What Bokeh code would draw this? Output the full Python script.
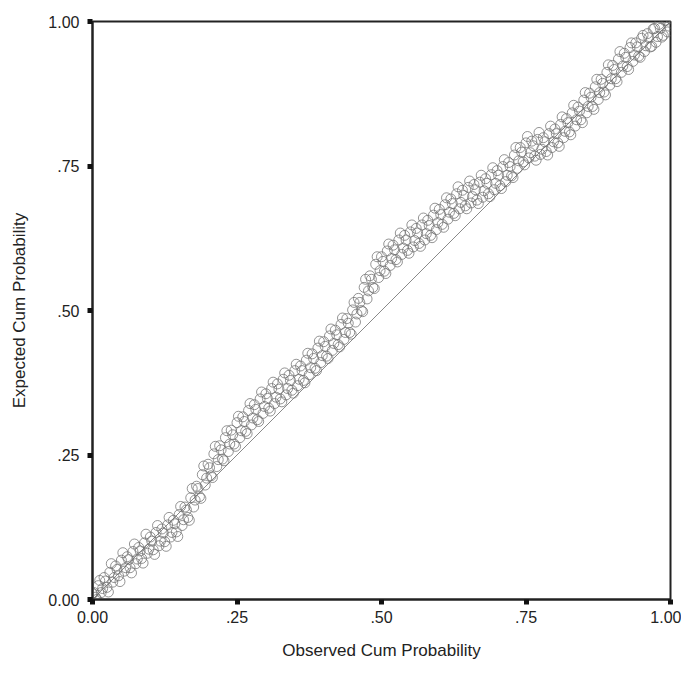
from bokeh.plotting import figure
from bokeh.models import Range1d, FixedTicker, ColumnDataSource
from bokeh.embed import file_html
from bokeh.resources import INLINE

# Observed cumulative probability (x) and expected cumulative probability (y)
observed = [
    0.000, 0.005, 0.010, 0.015, 0.020, 0.025, 0.030, 0.035, 0.040, 0.045,
    0.050, 0.055, 0.060, 0.065, 0.070, 0.075, 0.080, 0.085, 0.090, 0.095,
    0.100, 0.105, 0.110, 0.115, 0.120, 0.125, 0.130, 0.135, 0.140, 0.145,
    0.150, 0.155, 0.160, 0.165, 0.170, 0.175, 0.180, 0.185, 0.190, 0.195,
    0.200, 0.205, 0.210, 0.215, 0.220, 0.225, 0.230, 0.235, 0.240, 0.245,
    0.250, 0.255, 0.260, 0.265, 0.270, 0.275, 0.280, 0.285, 0.290, 0.295,
    0.300, 0.305, 0.310, 0.315, 0.320, 0.325, 0.330, 0.335, 0.340, 0.345,
    0.350, 0.355, 0.360, 0.365, 0.370, 0.375, 0.380, 0.385, 0.390, 0.395,
    0.400, 0.405, 0.410, 0.415, 0.420, 0.425, 0.430, 0.435, 0.440, 0.445,
    0.450, 0.455, 0.460, 0.465, 0.470, 0.475, 0.480, 0.485, 0.490, 0.495,
    0.500, 0.505, 0.510, 0.515, 0.520, 0.525, 0.530, 0.535, 0.540, 0.545,
    0.550, 0.555, 0.560, 0.565, 0.570, 0.575, 0.580, 0.585, 0.590, 0.595,
    0.600, 0.605, 0.610, 0.615, 0.620, 0.625, 0.630, 0.635, 0.640, 0.645,
    0.650, 0.655, 0.660, 0.665, 0.670, 0.675, 0.680, 0.685, 0.690, 0.695,
    0.700, 0.705, 0.710, 0.715, 0.720, 0.725, 0.730, 0.735, 0.740, 0.745,
    0.750, 0.755, 0.760, 0.765, 0.770, 0.775, 0.780, 0.785, 0.790, 0.795,
    0.800, 0.805, 0.810, 0.815, 0.820, 0.825, 0.830, 0.835, 0.840, 0.845,
    0.850, 0.855, 0.860, 0.865, 0.870, 0.875, 0.880, 0.885, 0.890, 0.895,
    0.900, 0.905, 0.910, 0.915, 0.920, 0.925, 0.930, 0.935, 0.940, 0.945,
    0.950, 0.955, 0.960, 0.965, 0.970, 0.975, 0.980, 0.985, 0.990, 0.995,
    1.000,
]
expected = [
    0.010, 0.004, 0.024, 0.012, 0.038, 0.021, 0.047, 0.030, 0.058, 0.041,
    0.068, 0.049, 0.074, 0.055, 0.083, 0.062, 0.090, 0.071, 0.098, 0.080,
    0.108, 0.086, 0.116, 0.093, 0.122, 0.100, 0.129, 0.108, 0.137, 0.117,
    0.147, 0.128, 0.160, 0.142, 0.176, 0.160, 0.196, 0.178, 0.216, 0.198,
    0.234, 0.214, 0.252, 0.230, 0.266, 0.243, 0.280, 0.256, 0.293, 0.269,
    0.306, 0.280, 0.316, 0.291, 0.327, 0.302, 0.337, 0.311, 0.347, 0.322,
    0.356, 0.331, 0.365, 0.339, 0.373, 0.347, 0.381, 0.354, 0.388, 0.362,
    0.396, 0.370, 0.404, 0.379, 0.414, 0.389, 0.425, 0.400, 0.435, 0.410,
    0.446, 0.421, 0.456, 0.431, 0.466, 0.441, 0.476, 0.450, 0.486, 0.462,
    0.501, 0.480, 0.521, 0.500, 0.540, 0.520, 0.560, 0.540, 0.580, 0.557,
    0.593, 0.568, 0.603, 0.578, 0.613, 0.588, 0.622, 0.597, 0.630, 0.604,
    0.636, 0.610, 0.642, 0.616, 0.648, 0.622, 0.656, 0.630, 0.665, 0.640,
    0.675, 0.649, 0.683, 0.658, 0.693, 0.668, 0.702, 0.676, 0.708, 0.681,
    0.713, 0.686, 0.718, 0.691, 0.722, 0.696, 0.728, 0.702, 0.735, 0.709,
    0.742, 0.716, 0.749, 0.723, 0.756, 0.733, 0.769, 0.746, 0.782, 0.757,
    0.790, 0.764, 0.793, 0.767, 0.796, 0.770, 0.799, 0.775, 0.806, 0.782,
    0.814, 0.790, 0.822, 0.799, 0.832, 0.809, 0.842, 0.819, 0.852, 0.830,
    0.864, 0.842, 0.876, 0.853, 0.887, 0.865, 0.900, 0.878, 0.912, 0.890,
    0.924, 0.901, 0.935, 0.912, 0.945, 0.922, 0.955, 0.931, 0.963, 0.940,
    0.971, 0.948, 0.979, 0.956, 0.987, 0.964, 0.995, 0.973, 1.002, 0.982,
    1.005,
]
observed_b = [
    0.0025, 0.0075, 0.0125, 0.0175, 0.0225, 0.0275, 0.0325, 0.0375, 0.0425, 0.0475,
    0.0525, 0.0575, 0.0625, 0.0675, 0.0725, 0.0775, 0.0825, 0.0875, 0.0925, 0.0975,
    0.1025, 0.1075, 0.1125, 0.1175, 0.1225, 0.1275, 0.1325, 0.1375, 0.1425, 0.1475,
    0.1525, 0.1575, 0.1625, 0.1675, 0.1725, 0.1775, 0.1825, 0.1875, 0.1925, 0.1975,
    0.2025, 0.2075, 0.2125, 0.2175, 0.2225, 0.2275, 0.2325, 0.2375, 0.2425, 0.2475,
    0.2525, 0.2575, 0.2625, 0.2675, 0.2725, 0.2775, 0.2825, 0.2875, 0.2925, 0.2975,
    0.3025, 0.3075, 0.3125, 0.3175, 0.3225, 0.3275, 0.3325, 0.3375, 0.3425, 0.3475,
    0.3525, 0.3575, 0.3625, 0.3675, 0.3725, 0.3775, 0.3825, 0.3875, 0.3925, 0.3975,
    0.4025, 0.4075, 0.4125, 0.4175, 0.4225, 0.4275, 0.4325, 0.4375, 0.4425, 0.4475,
    0.4525, 0.4575, 0.4625, 0.4675, 0.4725, 0.4775, 0.4825, 0.4875, 0.4925, 0.4975,
    0.5025, 0.5075, 0.5125, 0.5175, 0.5225, 0.5275, 0.5325, 0.5375, 0.5425, 0.5475,
    0.5525, 0.5575, 0.5625, 0.5675, 0.5725, 0.5775, 0.5825, 0.5875, 0.5925, 0.5975,
    0.6025, 0.6075, 0.6125, 0.6175, 0.6225, 0.6275, 0.6325, 0.6375, 0.6425, 0.6475,
    0.6525, 0.6575, 0.6625, 0.6675, 0.6725, 0.6775, 0.6825, 0.6875, 0.6925, 0.6975,
    0.7025, 0.7075, 0.7125, 0.7175, 0.7225, 0.7275, 0.7325, 0.7375, 0.7425, 0.7475,
    0.7525, 0.7575, 0.7625, 0.7675, 0.7725, 0.7775, 0.7825, 0.7875, 0.7925, 0.7975,
    0.8025, 0.8075, 0.8125, 0.8175, 0.8225, 0.8275, 0.8325, 0.8375, 0.8425, 0.8475,
    0.8525, 0.8575, 0.8625, 0.8675, 0.8725, 0.8775, 0.8825, 0.8875, 0.8925, 0.8975,
    0.9025, 0.9075, 0.9125, 0.9175, 0.9225, 0.9275, 0.9325, 0.9375, 0.9425, 0.9475,
    0.9525, 0.9575, 0.9625, 0.9675, 0.9725, 0.9775, 0.9825, 0.9875, 0.9925, 0.9975,
]
expected_b = [
    0.012, 0.000, 0.033, 0.019, 0.032, 0.013, 0.062, 0.038, 0.052, 0.031,
    0.081, 0.055, 0.069, 0.046, 0.096, 0.070, 0.084, 0.063, 0.113, 0.087,
    0.101, 0.078, 0.128, 0.101, 0.115, 0.092, 0.142, 0.116, 0.131, 0.109,
    0.161, 0.138, 0.155, 0.137, 0.192, 0.172, 0.192, 0.175, 0.231, 0.210,
    0.228, 0.211, 0.265, 0.242, 0.259, 0.240, 0.292, 0.269, 0.285, 0.265,
    0.317, 0.292, 0.308, 0.287, 0.339, 0.314, 0.329, 0.308, 0.359, 0.334,
    0.348, 0.326, 0.376, 0.350, 0.364, 0.342, 0.392, 0.365, 0.379, 0.357,
    0.407, 0.381, 0.396, 0.375, 0.426, 0.401, 0.417, 0.396, 0.447, 0.422,
    0.438, 0.417, 0.468, 0.443, 0.458, 0.437, 0.487, 0.462, 0.478, 0.459,
    0.514, 0.494, 0.514, 0.498, 0.554, 0.534, 0.554, 0.538, 0.593, 0.569,
    0.585, 0.564, 0.615, 0.590, 0.605, 0.584, 0.634, 0.608, 0.622, 0.599,
    0.648, 0.621, 0.634, 0.611, 0.660, 0.633, 0.647, 0.626, 0.677, 0.652,
    0.666, 0.644, 0.695, 0.670, 0.685, 0.664, 0.714, 0.687, 0.699, 0.676,
    0.724, 0.697, 0.709, 0.685, 0.734, 0.707, 0.720, 0.697, 0.747, 0.720,
    0.734, 0.711, 0.761, 0.734, 0.749, 0.730, 0.782, 0.759, 0.774, 0.752,
    0.801, 0.773, 0.785, 0.760, 0.808, 0.779, 0.792, 0.769, 0.819, 0.792,
    0.806, 0.784, 0.835, 0.810, 0.825, 0.804, 0.855, 0.830, 0.845, 0.825,
    0.877, 0.853, 0.869, 0.848, 0.900, 0.877, 0.893, 0.873, 0.925, 0.901,
    0.917, 0.896, 0.948, 0.923, 0.938, 0.917, 0.963, 0.942, 0.956, 0.938,
    0.976, 0.958, 0.972, 0.957, 0.988, 0.974, 0.988, 0.976, 1.002, 0.992,
]
ref_line = [0.0, 1.0]
tick_values = [0.0, 0.25, 0.5, 0.75, 1.0]
tick_labels = ["0.00", ".25", ".50", ".75", "1.00"]

FONT = "Liberation Sans"

p = figure(width=681, height=670, output_backend="svg", toolbar_location=None,
           x_range=Range1d(0, 1), y_range=Range1d(0, 1),
           min_border_left=92, min_border_right=11, min_border_top=21, min_border_bottom=71)

p.background_fill_color = "white"
p.border_fill_color = "white"
p.outline_line_color = "#222222"
p.outline_line_width = 2
p.grid.visible = False

p.line(ref_line, ref_line, line_color="#8a8a8a", line_width=1)

src = ColumnDataSource(dict(x=observed + observed_b, y=expected + expected_b))
p.scatter("x", "y", source=src, marker="circle", size=10,
          line_color="#707070", line_width=1, line_alpha=0.75, fill_color=None)

labels = {v: t for v, t in zip(tick_values, tick_labels)}
for ax in (p.xaxis[0], p.yaxis[0]):
    ax.ticker = FixedTicker(ticks=tick_values)
    ax.major_label_overrides = labels
    ax.minor_tick_line_color = None
    ax.major_tick_in = 0
    ax.major_tick_out = 5
    ax.major_tick_line_width = 5
    ax.major_tick_line_color = "#111111"
    ax.axis_line_color = "#222222"
    ax.axis_line_width = 2
    ax.major_label_text_font = FONT
    ax.major_label_text_font_size = "16px"
    ax.major_label_text_color = "#222222"
    ax.axis_label_text_font = FONT
    ax.axis_label_text_font_size = "17px"
    ax.axis_label_text_font_style = "normal"
    ax.axis_label_text_color = "#222222"

p.xaxis.axis_label = "Observed Cum Probability"
p.yaxis.axis_label = "Expected Cum Probability"
p.xaxis.major_label_standoff = 6
p.xaxis.axis_label_standoff = 15
p.yaxis.major_label_standoff = 8
p.yaxis.axis_label_standoff = 16

open("out.html", "w").write(file_html(p, INLINE))
